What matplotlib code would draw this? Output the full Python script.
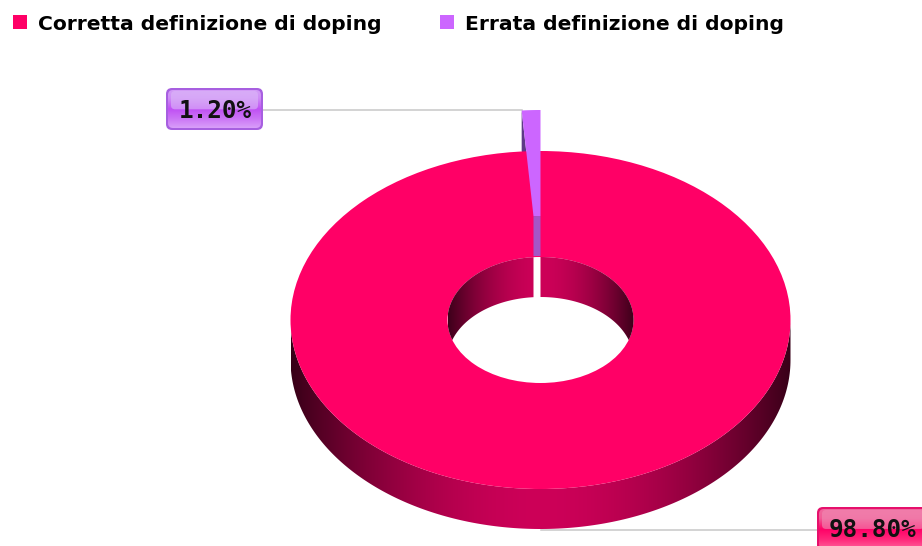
import numpy as np
import matplotlib
matplotlib.use("Agg")
import matplotlib.pyplot as plt
from matplotlib.patches import FancyBboxPatch, Rectangle, Ellipse, Polygon
from matplotlib.colors import LinearSegmentedColormap

names = ["Corretta definizione di doping", "Errata definizione di doping"]
values = [98.8, 1.2]
labels = ["98.80%", "1.20%"]
colors = ["#ff0066", "#cc66ff"]

# ring geometry, in pixels
cx, cy = 540.5, 320.0
rx_out, ry_out = 250.0, 169.0
rx_in, ry_in = 93.0, 63.0
depth = 40.0
lift = 41.0


def ring_xy(rx, ry, ang, dy=0.0):
    # angle runs clockwise from 12 o'clock
    return cx + rx * np.sin(ang), cy - ry * np.cos(ang) + dy


def wall_band(ax, rx, ry, a0, a1, floor, zorder, rim=None):
    # side wall as a left-right gradient, darker towards the ends of the ellipse
    ang = np.linspace(a0, a1, 200)
    x, y = ring_xy(rx, ry, ang)
    low = y + depth
    if rim is not None:
        # inside the hole the wall stops at the near rim
        low = np.minimum(low, cy + rim * np.sqrt(np.clip(1 - ((x - cx) / rx) ** 2, 0, 1)))
    outline = Polygon(np.column_stack([np.r_[x, x[::-1]], np.r_[y, low[::-1]]]),
                      fc="none", ec="none", zorder=zorder)
    ax.add_patch(outline)
    t = np.linspace(-1, 1, 512)
    shade = floor + (1.0 - floor) * (1.0 - np.abs(t) ** 1.8)
    strip = (shade[:, None] * (np.array([205, 0, 88]) / 255.0))[None, :, :]
    im = ax.imshow(strip, extent=(cx - rx, cx + rx, cy + ry + depth, cy - ry),
                   aspect="auto", interpolation="bilinear", zorder=zorder)
    im.set_clip_path(outline)


def glossy_box(ax, x, y, w, h, border, stops, shine, zorder=6):
    box = FancyBboxPatch((x + 4, y + 4), w - 8, h - 8,
                         boxstyle="round,pad=4,rounding_size=6",
                         fc=border, ec="none", zorder=zorder)
    ax.add_patch(box)
    inner = FancyBboxPatch((x + 5, y + 5), w - 10, h - 10,
                           boxstyle="round,pad=3,rounding_size=5",
                           fc="none", ec="none", zorder=zorder + 1)
    ax.add_patch(inner)
    cmap = LinearSegmentedColormap.from_list("box", stops)
    grad = np.linspace(0, 1, 64).reshape(-1, 1)
    im = ax.imshow(grad, extent=(x, x + w, y + h, y), cmap=cmap, aspect="auto",
                   zorder=zorder + 1)
    im.set_clip_path(inner)
    top = FancyBboxPatch((x + 7, y + 5), w - 14, h * 0.34,
                         boxstyle="round,pad=2,rounding_size=4",
                         fc=shine, ec="none", alpha=0.6, zorder=zorder + 2)
    ax.add_patch(top)


fig = plt.figure(figsize=(9.22, 5.46), dpi=100)
ax = fig.add_axes([0, 0, 1, 1])
ax.axis("off")

start = -np.deg2rad(values[1] * 3.6)  # small slice sits just left of 12 o'clock

# outer wall, front half only
wall_band(ax, rx_out, ry_out, np.pi / 2, 3 * np.pi / 2, 0.27, 1)

# cut face of the lifted slice, the ring hides most of it
x_o, y_o = ring_xy(rx_out, ry_out, start, -lift)
x_i, y_i = ring_xy(rx_in, ry_in, start, -lift)
ax.add_patch(Polygon([(x_o, y_o), (x_i, y_i), (x_i, y_i + depth), (x_o, y_o + depth)],
                     fc="#5d3a86", ec="none", zorder=1.5))

# top of the ring
ax.add_patch(Ellipse((cx, cy), 2 * rx_out, 2 * ry_out, fc=colors[0], ec="none", zorder=2))
ax.add_patch(Ellipse((cx, cy), 2 * rx_in, 2 * ry_in, fc="white", ec="none", zorder=2.1))

# inner wall, back half, stops where the small slice was taken out
wall_band(ax, rx_in, ry_in, -np.pi / 2, start, 0.3, 2.2, rim=ry_in)
wall_band(ax, rx_in, ry_in, 0, np.pi / 2, 0.3, 2.2, rim=ry_in)

# lifted slice: top surface and its inner wall
arc = np.linspace(start, 0, 12)
xo, yo = ring_xy(rx_out, ry_out, arc, -lift)
xi, yi = ring_xy(rx_in, ry_in, arc[::-1], -lift)
ax.add_patch(Polygon(np.column_stack([np.r_[xo, xi], np.r_[yo, yi]]), fc=colors[1], ec="none", zorder=3))
ax.add_patch(Polygon(np.column_stack([np.r_[xi, xi[::-1]], np.r_[yi, yi[::-1] + depth]]),
                     fc="#a455c6", ec="none", zorder=3))

# leader lines
ax.plot([263, x_o], [y_o, y_o], color="#c8c8c8", lw=1.1, zorder=0.5)
ax.plot([cx, 817], [cy + ry_out + depth + 0.5] * 2, color="#c8c8c8", lw=1.1, zorder=0.5)

# value boxes
glossy_box(ax, 166, 88, 97, 42, "#a75fe0",
           ["#d3a0f6", "#cf8cf6", "#c050f4", "#cc78f6", "#dba6fa"], "#dcb8f8")
ax.text(215, 111, labels[1], ha="center", va="center", family="DejaVu Sans Mono",
        fontweight="bold", fontsize=17.5, color="#111111", zorder=10)
glossy_box(ax, 817, 507, 112, 44, "#e6106c",
           ["#f06a9f", "#f25c96", "#ff0066", "#ff2a7c", "#ff6aa0"], "#f08cb4")
ax.text(872.5, 530, labels[0], ha="center", va="center", family="DejaVu Sans Mono",
        fontweight="bold", fontsize=17.5, color="#111111", zorder=10)

# legend
legend_x = [13, 440]
for name, col, lx in zip(names, colors, legend_x):
    ax.add_patch(Rectangle((lx, 15), 14, 14, fc=col, ec="none", zorder=5))
    ax.text(lx + 24.5, 24, name, ha="left", va="center", family="DejaVu Sans",
            fontweight="bold", fontsize=14.55, color="black", zorder=5)

ax.set_xlim(0, 922)
ax.set_ylim(546, 0)
ax.set_aspect("auto")

fig.savefig("out.png", dpi=100, facecolor="white")
